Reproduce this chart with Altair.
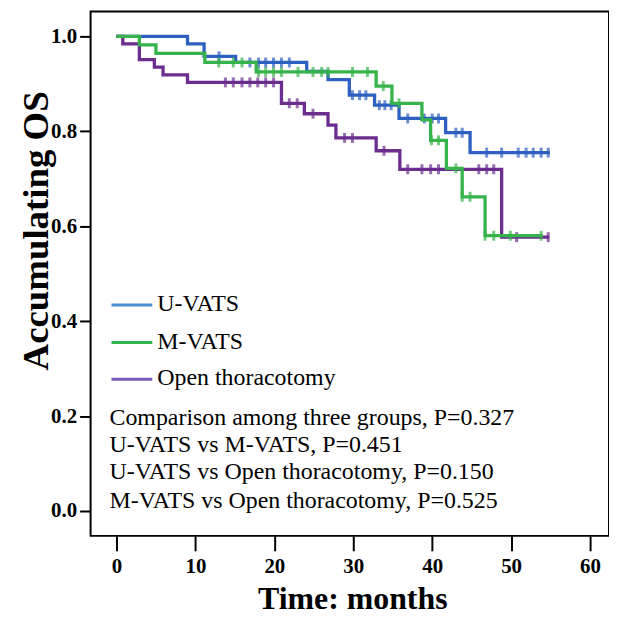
import altair as alt
import pandas as pd

groups = ["U-VATS", "M-VATS", "Open thoracotomy"]
line_colors = ["#2d60c0", "#36b44b", "#6b2d8e"]
legend_colors = ["#4a8fd6", "#2fb450", "#7a5cb8"]

# U-VATS
u_times = [0, 9.0, 11.1, 15.1, 24.1, 26.8, 29.5, 32.7, 35.8, 41.7, 44.8, 54.9]
u_surv = [1.0, 0.984, 0.958, 0.945, 0.926, 0.909, 0.876, 0.855, 0.827, 0.797, 0.755, 0.755]
u_cens = [13.0, 16.9, 18.0, 18.9, 19.9, 20.9, 21.9, 29.9, 30.8, 31.6, 33.3, 34.0, 34.8,
          36.9, 39.0, 40.0, 40.8, 43.0, 43.8, 46.9, 48.8, 50.9, 51.9, 52.8, 53.8, 54.7]

# M-VATS
m_times = [0, 2.9, 5.0, 11.2, 17.7, 32.9, 34.9, 38.7, 39.8, 41.8, 43.8, 46.7, 54.0]
m_surv = [1.0, 0.982, 0.964, 0.945, 0.925, 0.895, 0.859, 0.824, 0.781, 0.722, 0.662, 0.580, 0.580]
m_cens = [12.95, 14.8, 15.9, 18.0, 18.9, 19.9, 20.9, 23.0, 24.9, 26.0, 26.8, 29.9, 31.8,
          33.8, 35.8, 39.9, 40.8, 43.0, 43.8, 44.8, 46.7, 47.8, 49.9, 53.8]

# Open thoracotomy
o_times = [0, 0.8, 2.9, 4.8, 5.9, 9.0, 20.9, 23.8, 26.8, 27.8, 32.9, 35.9, 48.8, 54.8]
o_surv = [1.0, 0.984, 0.951, 0.935, 0.919, 0.903, 0.859, 0.837, 0.813, 0.786, 0.759, 0.720, 0.577, 0.577]
o_cens = [13.8, 14.8, 15.9, 16.9, 17.9, 18.9, 19.9, 21.9, 22.9, 24.9, 28.9, 29.9, 33.9,
          36.9, 38.7, 39.8, 40.8, 45.9, 46.9, 47.8, 50.7, 54.7]

x_ticks = [0, 10, 20, 30, 40, 50, 60]
y_ticks = [0.0, 0.2, 0.4, 0.6, 0.8, 1.0]

notes = [
    "Comparison among three groups, P=0.327",
    "U-VATS vs M-VATS, P=0.451",
    "U-VATS vs Open thoracotomy, P=0.150",
    "M-VATS vs Open thoracotomy, P=0.525",
]

series = {
    "U-VATS": (u_times, u_surv, u_cens),
    "M-VATS": (m_times, m_surv, m_cens),
    "Open thoracotomy": (o_times, o_surv, o_cens),
}


def level_at(times, surv, t):
    val = surv[0]
    for ti, si in zip(times, surv):
        if ti <= t:
            val = si
    return val


curve_rows, cens_rows = [], []
for g, (ts, ss, cs) in series.items():
    for t, s in zip(ts, ss):
        curve_rows.append({"group": g, "t": t, "s": s})
    for c in cs:
        cens_rows.append({"group": g, "t": c, "s": level_at(ts, ss, c)})
curves = pd.DataFrame(curve_rows)
cens = pd.DataFrame(cens_rows)

SERIF = "Liberation Serif"

X = alt.X("t:Q",
          scale=alt.Scale(domain=[-3.28, 62.4], nice=False, zero=False),
          axis=alt.Axis(values=x_ticks, format="d", title="Time: months",
                        tickSize=15, labelPadding=5, titleFontSize=32,
                        titleX=263, titleY=73, titleBaseline="alphabetic"))
Y = alt.Y("s:Q",
          scale=alt.Scale(domain=[-0.0524, 1.0524], nice=False, zero=False),
          axis=alt.Axis(values=y_ticks, format=".1f", title="Accumulating OS",
                        tickSize=11, labelPadding=3, titleFontSize=37,
                        titleAngle=270, titleX=-54, titleY=220,
                        titleBaseline="middle", titleAlign="center"))

layers = []
for g in ["U-VATS", "Open thoracotomy", "M-VATS"]:
    col = line_colors[groups.index(g)]
    layers.append(
        alt.Chart(curves).transform_filter(alt.datum.group == g)
        .mark_line(interpolate="step-after", strokeWidth=3.3, color=col)
        .encode(x=X, y=Y)
    )
    layers.append(
        alt.Chart(cens).transform_filter(alt.datum.group == g)
        .mark_tick(orient="vertical", size=10, thickness=3, color=col)
        .encode(x=X, y=Y)
    )

legend_y = [295, 332.7, 369.5]
for i, g in enumerate(groups):
    d = pd.DataFrame({"g": [g]})
    layers.append(
        alt.Chart(d).mark_rule(color=legend_colors[i], strokeWidth=3)
        .encode(x=alt.value(21), x2=alt.value(62), y=alt.value(legend_y[i]))
    )
    layers.append(
        alt.Chart(d).mark_text(align="left", baseline="middle", font=SERIF,
                               fontSize=24, color="black")
        .encode(text="g:N", x=alt.value(67), y=alt.value(legend_y[i] - 1))
    )

note_y = [408.3, 435.5, 463.3, 491.5]
for i, n in enumerate(notes):
    d = pd.DataFrame({"n": [n]})
    layers.append(
        alt.Chart(d).mark_text(align="left", baseline="middle", font=SERIF,
                               fontSize=24, color="black")
        .encode(text="n:N", x=alt.value(19), y=alt.value(note_y[i]))
    )

chart = (
    alt.layer(*layers)
    .properties(width=521, height=527,
                padding={"left": 83, "top": 2, "right": 0, "bottom": 78},
                autosize=alt.AutoSizeParams(type="none"),
                background="white")
    .configure_view(stroke="black", strokeWidth=2)
    .configure_axis(grid=False, domain=False, labelFont=SERIF, labelFontWeight="bold",
                    labelFontSize=21, labelColor="black", tickColor="black",
                    tickWidth=2, titleFont=SERIF, titleFontWeight="bold",
                    titleColor="black")
)

chart.save("out.html", embed_options={"renderer": "svg", "actions": False})
